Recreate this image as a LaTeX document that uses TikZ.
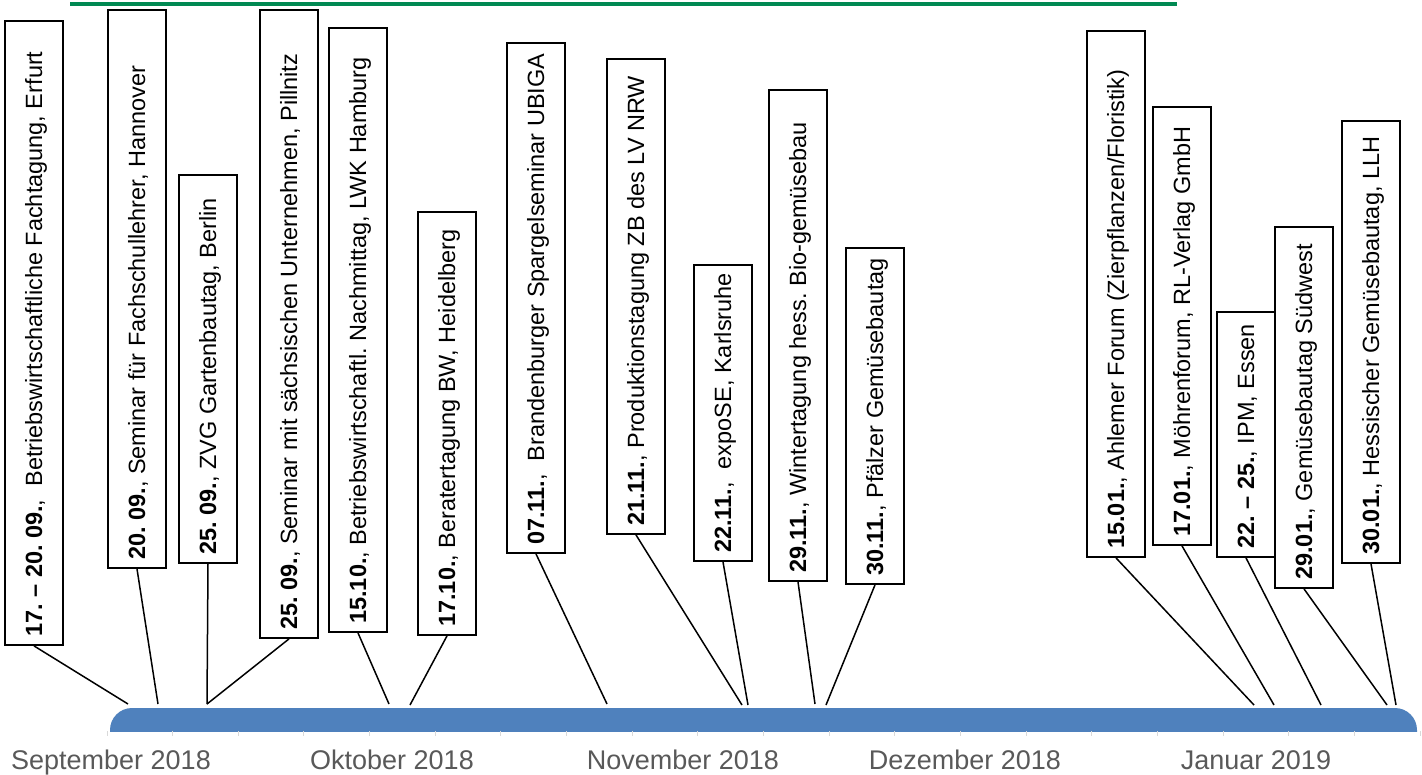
\documentclass[tikz,border=0pt]{standalone}
\usepackage{fontspec}
\setmainfont{Liberation Sans}
\frenchspacing
\definecolor{barblue}{RGB}{79,129,189}
\definecolor{monthgray}{RGB}{89,89,89}
\definecolor{tickgray}{RGB}{217,217,217}
\definecolor{topgreen}{RGB}{0,137,82}
\newcommand\evnt[6]{%
  \node[evbox, minimum height=#4] (#1) at (#2,#3) {};
  \node[evtext] (#1t) at ([xshift=8pt,yshift=9pt]#1.south) {#6};
}
\begin{document}
\begin{tikzpicture}[x=1pt,y=-1pt,
  evbox/.style={draw=black, line width=1.8pt, fill=white, rectangle, inner sep=0pt, minimum width=58pt},
  evtext/.style={rotate=90, anchor=base west, inner sep=0pt, font=\fontsize{23.5}{28}\selectfont},
  conn/.style={draw=black, line width=1.5pt},
  month/.style={text=monthgray, font=\fontsize{27}{32}\selectfont, anchor=base, inner sep=0pt},
  tick/.style={draw=tickgray, line width=1pt}
]
\useasboundingbox (0,0) rectangle (1422,774);
\draw[line width=4pt, topgreen] (70,3.5) -- (1177,3.5);
% timeline bar
\begin{scope}
  \clip (0,0) rectangle (1422,731);
  \fill[barblue, rounded corners=22pt] (110,708) rectangle (1417,770);
\end{scope}
\foreach \k in {0,...,20} \draw[tick] ({107+65.65*\k},731) -- ++(0,5);
% month labels
\node[month] (m1) at (111,769) {September 2018};
\node[month] (m2) at (392,769) {Oktober 2018};
\node[month] (m3) at (683,769) {November 2018};
\node[month] (m4) at (965,769) {Dezember 2018};
\node[month] (m5) at (1256,769) {Januar 2019};
% anchor points on the bar
\coordinate (b1) at (128,704);
\coordinate (b2) at (158,704);
\coordinate (b3) at (207,704);
\coordinate (b5) at (389,704);
\coordinate (b6) at (410,705);
\coordinate (b7) at (607,704);
\coordinate (b8) at (742,705);
\coordinate (b9) at (748,705);
\coordinate (b10) at (815,704);
\coordinate (b11) at (826,705);
\coordinate (b12) at (1254,705);
\coordinate (b13) at (1274,705);
\coordinate (b14) at (1321,705);
\coordinate (b15) at (1387,705);
\coordinate (b16) at (1396,705);
% events
\evnt{e1}{34}{333}{624}{645}{\textbf{17. – 20. 09.},\ \ Betriebswirtschaftliche Fachtagung, Erfurt}
\evnt{e2}{137}{289}{558}{568}{\textbf{20. 09.}, Seminar für Fachschullehrer, Hannover}
\evnt{e3}{208}{369}{388}{563}{\textbf{25. 09.}, ZVG Gartenbautag, Berlin}
\evnt{e4}{289}{324}{628}{638}{\textbf{25. 09.}, Seminar mit sächsischen Unternehmen, Pillnitz}
\evnt{e5}{358}{330}{604}{632}{\textbf{15.10.}, Betriebswirtschaftl. Nachmittag, LWK Hamburg}
\evnt{e6}{447}{423.5}{423}{635}{\textbf{17.10.}, Beratertagung BW, Heidelberg}
\evnt{e7}{536}{298}{510}{553}{\textbf{07.11.},\ \ Brandenburger Spargelseminar UBIGA}
\evnt{e8}{636}{296.5}{475}{534}{\textbf{21.11.}, Produktionstagung ZB des LV NRW}
\evnt{e9}{723}{413}{296}{561}{\textbf{22.11.},\ \ expoSE, Karlsruhe}
\evnt{e10}{798}{335.5}{491}{581}{\textbf{29.11.}, Wintertagung hess. Bio-gemüsebau}
\evnt{e11}{875}{416}{336}{584}{\textbf{30.11.}, Pfälzer Gemüsebautag}
\evnt{e12}{1116}{294}{526}{557}{\textbf{15.01.}, Ahlemer Forum (Zierpflanzen/Floristik)}
\evnt{e13}{1182}{326}{438}{545}{\textbf{17.01.}, Möhrenforum, RL-Verlag GmbH}
\evnt{e14}{1246}{434.5}{245}{557}{\textbf{22. – 25.}, IPM, Essen}
\evnt{e15}{1304}{407.5}{361}{588}{\textbf{29.01.}, Gemüsebautag Südwest}
\evnt{e16}{1371}{342}{442}{563}{\textbf{30.01.}, Hessischer Gemüsebautag, LLH}
% connectors
\draw[conn] (e1.south) -- (b1);
\draw[conn] (e2.south) -- (b2);
\draw[conn] (e3.south) -- (b3);
\draw[conn] (e4.south) -- (b3);
\draw[conn] (e5.south) -- (b5);
\draw[conn] (e6.south) -- (b6);
\draw[conn] (e7.south) -- (b7);
\draw[conn] (e8.south) -- (b8);
\draw[conn] (e9.south) -- (b9);
\draw[conn] (e10.south) -- (b10);
\draw[conn] (e11.south) -- (b11);
\draw[conn] (e12.south) -- (b12);
\draw[conn] (e13.south) -- (b13);
\draw[conn] (e14.south) -- (b14);
\draw[conn] (e15.south) -- (b15);
\draw[conn] (e16.south) -- (b16);
\end{tikzpicture}
\end{document}
